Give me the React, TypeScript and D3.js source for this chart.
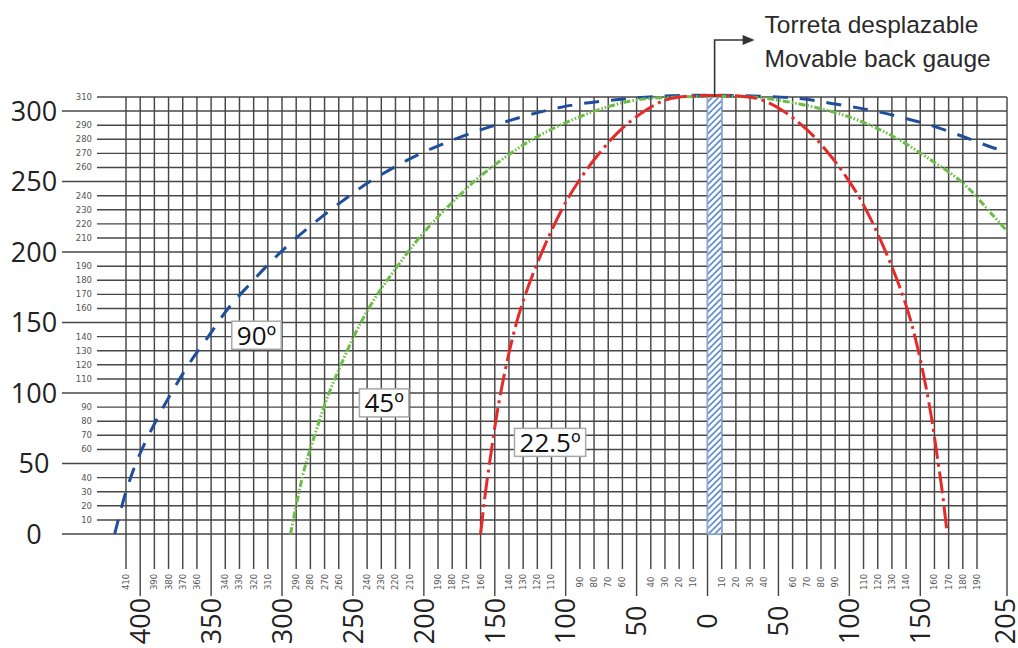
import { useEffect, useRef } from 'react';
import * as d3 from 'd3';

const W = 1018;
const H = 648;

// axis ticks (negative side is labelled by its absolute value)
const xMajor = [-400, -350, -300, -250, -200, -150, -100, -50, 0, 50, 100, 150, 205];
const xMinor = [
  -410, -390, -380, -370, -360, -340, -330, -320, -310, -290, -280, -270, -260, -240, -230, -220,
  -210, -190, -180, -170, -160, -140, -130, -120, -110, -90, -80, -70, -60, -40, -30, -20, -10, 10,
  20, 30, 40, 60, 70, 80, 90, 110, 120, 130, 140, 160, 170, 180, 190,
];
const yMajor = [0, 50, 100, 150, 200, 250, 300];
const yMinor = [
  10, 20, 30, 40, 60, 70, 80, 90, 110, 120, 130, 140, 160, 170, 180, 190, 210, 220, 230, 240, 260,
  270, 280, 290, 310,
];

// back gauge column
const gaugeFrom = 0;
const gaugeTo = 10;
const gaugeTop = 310;

// bending arcs [x, height]
const arc90: [number, number][] = [
  [-418, 0], [-410, 30], [-401, 55], [-389, 80], [-378, 100], [-366, 120], [-352, 140],
  [-338, 160], [-322, 178], [-306, 195], [-290, 210], [-272, 225], [-255, 238], [-238, 250],
  [-202, 270], [-153, 289], [-102, 303], [-55, 309], [-20, 311], [20, 311], [65, 309],
  [90, 305], [113, 301], [135, 296], [157, 290], [180, 282], [198, 274], [205, 271],
];
const arc45: [number, number][] = [
  [-294, 0], [-289, 25], [-284, 47], [-277, 70], [-268, 97], [-258, 121], [-247, 145],
  [-234, 168], [-220, 188], [-205, 208], [-190, 225], [-175, 240], [-160, 254], [-125, 279],
  [-90, 296], [-55, 307], [-19, 310], [30, 310], [60, 306], [90, 299], [110, 292], [131, 282],
  [155, 267], [180, 249], [198, 226], [205, 215],
];
const arc225: [number, number][] = [
  [-160, 0], [-156.5, 30], [-153, 55], [-148.5, 85], [-143.5, 112], [-137.5, 139], [-132, 159],
  [-124, 182], [-111, 213], [-99, 237], [-89, 253], [-78, 268], [-62, 286], [-43, 301],
  [-29, 308], [-15, 310.5], [24, 310.5], [38, 308], [52, 301], [71, 286], [87, 268], [98, 253],
  [108, 237], [120, 213], [133, 182], [141, 159], [146.5, 139], [152.5, 112], [157.5, 85],
  [162, 55], [165.5, 30], [169, 0],
];

const series = [
  { name: '90º', points: arc90, color: '#1f4f9c', dash: '15,12', at: [-318, 141] },
  { name: '45º', points: arc45, color: '#6cbd45', dash: '7,2,1.5,2,1.5,2', at: [-228, 93] },
  { name: '22.5º', points: arc225, color: '#e52a2a', dash: '22,5,3,5', at: [-111, 65] },
];

const notes = ['Torreta desplazable', 'Movable back gauge'];

export default function App() {
  const svgRef = useRef<SVGSVGElement | null>(null);

  useEffect(() => {
    if (!svgRef.current) return;
    const svg = d3.select(svgRef.current);
    svg.selectAll('*').remove();

    const x = d3.scaleLinear().domain([-410, 190, 205]).range([126, 977, 1007]);
    const y = d3.scaleLinear().domain([0, 310]).range([534, 97]);
    const y0 = y(0);
    const yTop = y(310);
    const xRight = x(205);
    const grid = '#474747';
    const gw = 1.45;

    svg.append('rect').attr('width', W).attr('height', H).attr('fill', '#fff');

    const defs = svg.append('defs');
    const pat = defs
      .append('pattern')
      .attr('id', 'hatch')
      .attr('width', 4.5)
      .attr('height', 4.5)
      .attr('patternUnits', 'userSpaceOnUse')
      .attr('patternTransform', 'rotate(45)');
    pat.append('rect').attr('width', 4.5).attr('height', 4.5).attr('fill', '#fff');
    pat.append('line').attr('x1', 1).attr('x2', 1).attr('y1', 0).attr('y2', 4.5)
      .attr('stroke', '#5583c9').attr('stroke-width', 1.6);

    // vertical grid + bottom ticks
    const gx = svg.append('g');
    gx.selectAll('line.minor')
      .data(xMinor)
      .enter()
      .append('line')
      .attr('x1', (d) => x(d))
      .attr('x2', (d) => x(d))
      .attr('y1', yTop)
      .attr('y2', y0 + 35)
      .attr('stroke', grid)
      .attr('stroke-width', gw);
    gx.selectAll('line.major')
      .data(xMajor)
      .enter()
      .append('line')
      .attr('x1', (d) => x(d))
      .attr('x2', (d) => x(d))
      .attr('y1', yTop)
      .attr('y2', y0 + 62)
      .attr('stroke', grid)
      .attr('stroke-width', gw);

    gx.selectAll('text.minor')
      .data(xMinor)
      .enter()
      .append('text')
      .attr('transform', (d) => `translate(${x(d)},${y0 + 48}) rotate(-90)`)
      .attr('text-anchor', 'middle')
      .attr('dy', '0.35em')
      .attr('font-family', 'DejaVu Sans, sans-serif')
      .attr('font-size', 8.5)
      .attr('fill', '#555')
      .text((d) => Math.abs(d));
    gx.selectAll('text.major')
      .data(xMajor)
      .enter()
      .append('text')
      .attr('transform', (d) => `translate(${Math.min(x(d), 1005)},${y0 + 87}) rotate(-90)`)
      .attr('text-anchor', 'middle')
      .attr('dy', '0.36em')
      .attr('font-family', 'Open Sans, sans-serif')
      .attr('font-size', 27)
      .attr('fill', '#222')
      .text((d) => Math.abs(d));

    // horizontal grid + left ticks
    const gy = svg.append('g');
    gy.selectAll('line.minor')
      .data(yMinor)
      .enter()
      .append('line')
      .attr('x1', 97)
      .attr('x2', xRight)
      .attr('y1', (d) => y(d))
      .attr('y2', (d) => y(d))
      .attr('stroke', grid)
      .attr('stroke-width', gw);
    gy.selectAll('line.major')
      .data(yMajor)
      .enter()
      .append('line')
      .attr('x1', 62)
      .attr('x2', xRight)
      .attr('y1', (d) => y(d))
      .attr('y2', (d) => y(d))
      .attr('stroke', grid)
      .attr('stroke-width', gw);
    gy.selectAll('text.minor')
      .data(yMinor)
      .enter()
      .append('text')
      .attr('x', 92)
      .attr('y', (d) => y(d))
      .attr('dy', '0.35em')
      .attr('text-anchor', 'end')
      .attr('font-family', 'DejaVu Sans, sans-serif')
      .attr('font-size', 8.5)
      .attr('fill', '#555')
      .text((d) => d);
    gy.selectAll('text.major')
      .data(yMajor)
      .enter()
      .append('text')
      .attr('x', 34)
      .attr('y', (d) => y(d))
      .attr('dy', '0.36em')
      .attr('text-anchor', 'middle')
      .attr('font-family', 'Open Sans, sans-serif')
      .attr('font-size', 27)
      .attr('fill', '#222')
      .text((d) => d);

    // back gauge column
    svg
      .append('rect')
      .attr('x', x(gaugeFrom))
      .attr('y', y(gaugeTop))
      .attr('width', x(gaugeTo) - x(gaugeFrom))
      .attr('height', y0 - y(gaugeTop))
      .attr('fill', 'url(#hatch)')
      .attr('stroke', '#8aaadc')
      .attr('stroke-width', 1.5);

    // arcs
    const line = d3
      .line<[number, number]>()
      .x((d) => x(d[0]))
      .y((d) => y(d[1]))
      .curve(d3.curveCatmullRom.alpha(0.5));
    series.forEach((s) => {
      svg
        .append('path')
        .attr('d', line(s.points)!)
        .attr('fill', 'none')
        .attr('stroke', s.color)
        .attr('stroke-width', 3)
        .attr('stroke-dasharray', s.dash);
    });

    // angle labels
    series.forEach((s) => {
      const g = svg.append('g').attr('transform', `translate(${x(s.at[0])},${y(s.at[1])})`);
      const t = g
        .append('text')
        .attr('text-anchor', 'middle')
        .attr('dy', '0.36em')
        .attr('font-family', 'Open Sans, sans-serif')
        .attr('font-size', 26)
        .attr('fill', '#111')
        .text(s.name);
      const bb = (t.node() as SVGTextElement).getBBox();
      g.insert('rect', 'text')
        .attr('x', bb.x - 5)
        .attr('y', -14)
        .attr('width', bb.width + 10)
        .attr('height', 28)
        .attr('fill', '#fff')
        .attr('stroke', '#a8a8a8')
        .attr('stroke-width', 1.5);
    });

    // movable back gauge callout
    const ax = x((gaugeFrom + gaugeTo) / 2);
    svg
      .append('path')
      .attr('d', `M${ax},${y(gaugeTop)} V40 H${ax + 32}`)
      .attr('fill', 'none')
      .attr('stroke', '#333')
      .attr('stroke-width', 1.6);
    svg
      .append('path')
      .attr('d', `M${ax + 40},40 L${ax + 28},35 L${ax + 28},45 Z`)
      .attr('fill', '#333');
    svg
      .selectAll('text.note')
      .data(notes)
      .enter()
      .append('text')
      .attr('x', ax + 50)
      .attr('y', (_, i) => 33 + i * 34)
      .attr('font-family', 'Liberation Sans, Arial, sans-serif')
      .attr('font-size', 24.5)
      .attr('fill', '#2a2a2a')
      .text((d) => d);
  }, []);

  return (
    <svg
      ref={svgRef}
      width={W}
      height={H}
      style={{ position: 'absolute', left: 0, top: 0, display: 'block' }}
    />
  );
}
